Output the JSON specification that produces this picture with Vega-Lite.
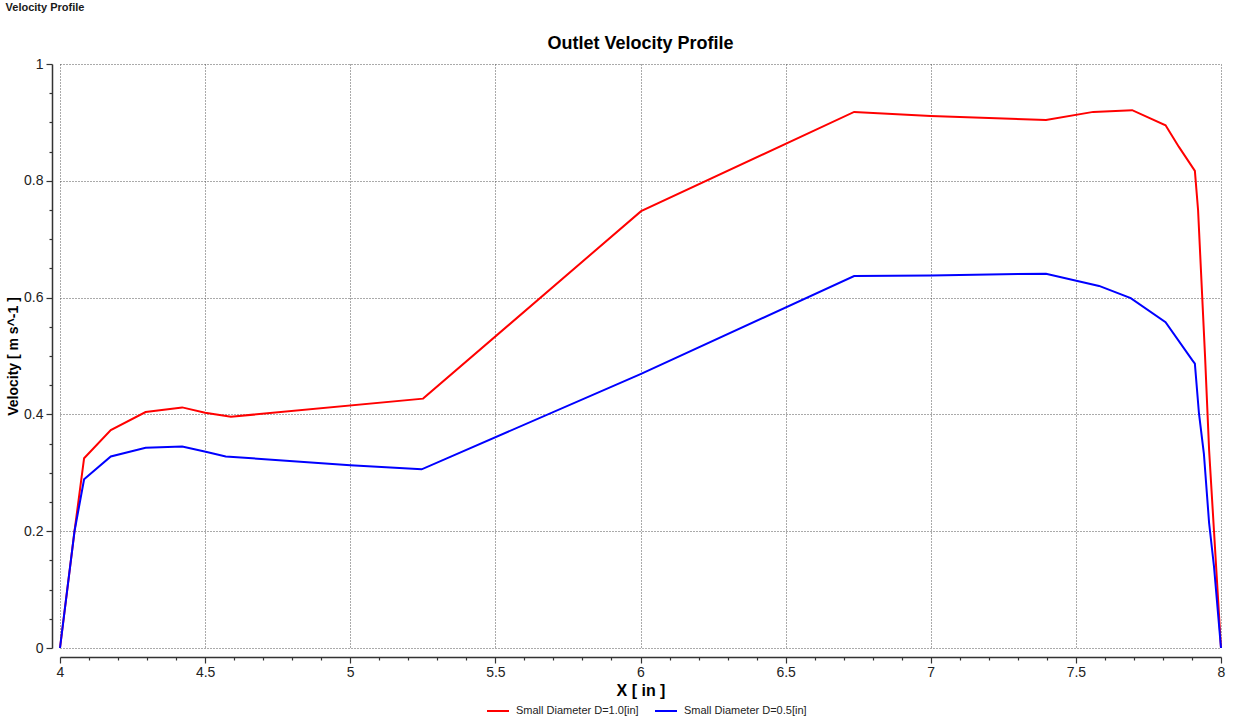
{
  "$schema": "https://vega.github.io/schema/vega-lite/v6.json",
  "padding": {"left": 5, "top": 2, "right": 10, "bottom": 2},
  "background": "white",
  "title": {"text": "Velocity Profile", "anchor": "start", "frame": "bounds", "fontSize": 11, "font": "Liberation Sans", "fontWeight": "bold", "color": "#1a1a1a", "offset": 22, "dx": -1},
  "config": {"view": {"stroke": null}, "font": "Liberation Sans"},
  "vconcat": [{
    "width": 1161,
    "height": 584,
    "title": {"text": "Outlet Velocity Profile", "fontSize": 18, "font": "Liberation Sans", "fontWeight": "bold", "color": "#000", "offset": 4},
    "data": {"values": [
      {"x": 4.0, "v": 0, "s": "Small Diameter D=1.0[in]"},
      {"x": 4.05, "v": 0.2, "s": "Small Diameter D=1.0[in]"},
      {"x": 4.083, "v": 0.325, "s": "Small Diameter D=1.0[in]"},
      {"x": 4.175, "v": 0.373, "s": "Small Diameter D=1.0[in]"},
      {"x": 4.295, "v": 0.404, "s": "Small Diameter D=1.0[in]"},
      {"x": 4.421, "v": 0.412, "s": "Small Diameter D=1.0[in]"},
      {"x": 4.5, "v": 0.403, "s": "Small Diameter D=1.0[in]"},
      {"x": 4.589, "v": 0.396, "s": "Small Diameter D=1.0[in]"},
      {"x": 5.251, "v": 0.427, "s": "Small Diameter D=1.0[in]"},
      {"x": 6.002, "v": 0.748, "s": "Small Diameter D=1.0[in]"},
      {"x": 6.736, "v": 0.918, "s": "Small Diameter D=1.0[in]"},
      {"x": 7.0, "v": 0.911, "s": "Small Diameter D=1.0[in]"},
      {"x": 7.397, "v": 0.904, "s": "Small Diameter D=1.0[in]"},
      {"x": 7.56, "v": 0.918, "s": "Small Diameter D=1.0[in]"},
      {"x": 7.694, "v": 0.921, "s": "Small Diameter D=1.0[in]"},
      {"x": 7.809, "v": 0.895, "s": "Small Diameter D=1.0[in]"},
      {"x": 7.855, "v": 0.858, "s": "Small Diameter D=1.0[in]"},
      {"x": 7.91, "v": 0.817, "s": "Small Diameter D=1.0[in]"},
      {"x": 7.921, "v": 0.75, "s": "Small Diameter D=1.0[in]"},
      {"x": 7.945, "v": 0.5, "s": "Small Diameter D=1.0[in]"},
      {"x": 7.959, "v": 0.339, "s": "Small Diameter D=1.0[in]"},
      {"x": 7.976, "v": 0.199, "s": "Small Diameter D=1.0[in]"},
      {"x": 8.0, "v": 0, "s": "Small Diameter D=1.0[in]"},
      {"x": 4.0, "v": 0, "s": "Small Diameter D=0.5[in]"},
      {"x": 4.05, "v": 0.2, "s": "Small Diameter D=0.5[in]"},
      {"x": 4.083, "v": 0.289, "s": "Small Diameter D=0.5[in]"},
      {"x": 4.175, "v": 0.328, "s": "Small Diameter D=0.5[in]"},
      {"x": 4.295, "v": 0.343, "s": "Small Diameter D=0.5[in]"},
      {"x": 4.421, "v": 0.345, "s": "Small Diameter D=0.5[in]"},
      {"x": 4.502, "v": 0.336, "s": "Small Diameter D=0.5[in]"},
      {"x": 4.571, "v": 0.328, "s": "Small Diameter D=0.5[in]"},
      {"x": 5.0, "v": 0.313, "s": "Small Diameter D=0.5[in]"},
      {"x": 5.246, "v": 0.306, "s": "Small Diameter D=0.5[in]"},
      {"x": 6.0, "v": 0.469, "s": "Small Diameter D=0.5[in]"},
      {"x": 6.736, "v": 0.637, "s": "Small Diameter D=0.5[in]"},
      {"x": 7.0, "v": 0.638, "s": "Small Diameter D=0.5[in]"},
      {"x": 7.397, "v": 0.641, "s": "Small Diameter D=0.5[in]"},
      {"x": 7.58, "v": 0.62, "s": "Small Diameter D=0.5[in]"},
      {"x": 7.689, "v": 0.599, "s": "Small Diameter D=0.5[in]"},
      {"x": 7.809, "v": 0.558, "s": "Small Diameter D=0.5[in]"},
      {"x": 7.901, "v": 0.493, "s": "Small Diameter D=0.5[in]"},
      {"x": 7.91, "v": 0.487, "s": "Small Diameter D=0.5[in]"},
      {"x": 7.924, "v": 0.402, "s": "Small Diameter D=0.5[in]"},
      {"x": 7.941, "v": 0.333, "s": "Small Diameter D=0.5[in]"},
      {"x": 7.959, "v": 0.214, "s": "Small Diameter D=0.5[in]"},
      {"x": 7.976, "v": 0.139, "s": "Small Diameter D=0.5[in]"},
      {"x": 8.0, "v": 0, "s": "Small Diameter D=0.5[in]"}
    ]},
    "mark": {"type": "line", "strokeWidth": 2},
    "encoding": {
      "x": {"field": "x", "type": "quantitative", "scale": {"domain": [4, 8], "nice": false, "zero": false},
        "axis": {
          "title": "X [ in ]", "titleFontSize": 16, "titleFontWeight": "bold", "titleColor": "#000", "titlePadding": 3,
          "values": [4,4.1,4.2,4.3,4.4,4.5,4.6,4.7,4.8,4.9,5,5.1,5.2,5.3,5.4,5.5,5.6,5.7,5.8,5.9,6,6.1,6.2,6.3,6.4,6.5,6.6,6.7,6.8,6.9,7,7.1,7.2,7.3,7.4,7.5,7.6,7.7,7.8,7.9,8],
          "format": "~g",
          "labelExpr": "abs(datum.value*2 - round(datum.value*2)) < 0.001 ? datum.label : ''",
          "labelFontSize": 14, "labelColor": "#222", "labelPadding": 2, "labelFlush": false, "labelOverlap": false,
          "offset": 9, "domainColor": "#333", "domainWidth": 1.5, "tickColor": "#333", "tickWidth": 1.2,
          "tickSize": {"condition": {"test": "abs(datum.value*2 - round(datum.value*2)) < 0.001", "value": 6}, "value": 3},
          "grid": true, "gridColor": "#555", "gridDash": [1, 2], "gridWidth": 1,
          "gridOpacity": {"condition": {"test": "abs(datum.value*2 - round(datum.value*2)) < 0.001", "value": 1}, "value": 0}
        }},
      "y": {"field": "v", "type": "quantitative", "scale": {"domain": [0, 1], "nice": false},
        "axis": {
          "title": "Velocity [ m s^-1 ]", "titleFontSize": 14, "titleFontWeight": "bold", "titleColor": "#000", "titlePadding": 3,
          "values": [0,0.05,0.1,0.15,0.2,0.25,0.3,0.35,0.4,0.45,0.5,0.55,0.6,0.65,0.7,0.75,0.8,0.85,0.9,0.95,1],
          "format": "~g",
          "labelExpr": "abs(datum.value*5 - round(datum.value*5)) < 0.001 ? datum.label : ''",
          "labelFontSize": 14, "labelColor": "#222", "labelPadding": 3, "labelFlush": false, "labelOverlap": false,
          "offset": 8, "domainColor": "#333", "domainWidth": 1.5, "tickColor": "#333", "tickWidth": 1.2,
          "tickSize": {"condition": {"test": "abs(datum.value*5 - round(datum.value*5)) < 0.001", "value": 6}, "value": 3},
          "grid": true, "gridColor": "#555", "gridDash": [1, 2], "gridWidth": 1,
          "gridOpacity": {"condition": {"test": "abs(datum.value*5 - round(datum.value*5)) < 0.001", "value": 1}, "value": 0}
        }},
      "color": {"field": "s", "type": "nominal",
        "scale": {"domain": ["Small Diameter D=1.0[in]", "Small Diameter D=0.5[in]"], "range": ["#ff0000", "#0000ff"]},
        "legend": {"title": null, "orient": "none", "legendX": 426, "legendY": 635, "direction": "horizontal", "symbolType": "stroke", "symbolStrokeWidth": 2, "symbolSize": 484, "labelFontSize": 11, "labelColor": "#222", "labelOffset": 6, "columnPadding": 12, "labelLimit": 300}
      }
    }
  }]
}
